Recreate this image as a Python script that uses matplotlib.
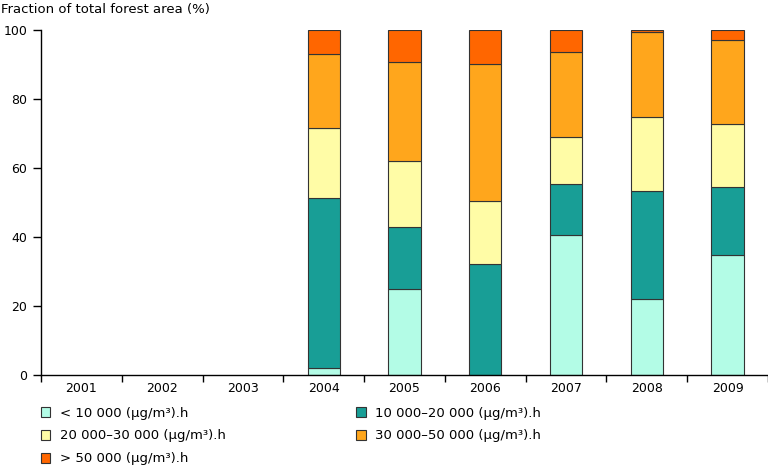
import numpy as np
import matplotlib.pyplot as plt

years = ['2001', '2002', '2003', '2004', '2005', '2006', '2007', '2008', '2009']
labels = ['< 10 000 (µg/m³).h', '10 000–20 000 (µg/m³).h', '20 000–30 000 (µg/m³).h',
          '30 000–50 000 (µg/m³).h', '> 50 000 (µg/m³).h']
colors = ['#b3fce6', '#189e96', '#fffca6', '#ffa61c', '#ff6600']

# fractions (%) per class, no data for 2001-2003
lt10  = [0, 0, 0, 1.9, 25.0, 0.0, 40.7, 22.0, 34.9]
c1020 = [0, 0, 0, 49.5, 17.9, 32.3, 14.7, 31.2, 19.5]
c2030 = [0, 0, 0, 20.1, 19.0, 18.0, 13.5, 21.5, 18.4]
c3050 = [0, 0, 0, 21.5, 28.7, 39.9, 24.6, 24.8, 24.4]
gt50  = [0, 0, 0, 7.0, 9.4, 9.8, 6.5, 0.5, 2.8]
series = [lt10, c1020, c2030, c3050, gt50]

plt.rcParams['font.family'] = 'DejaVu Sans'
fig = plt.figure(figsize=(7.68, 4.65), dpi=100)
ax = fig.add_axes([41/768, 90/465, 727/768, 345/465])

x = np.arange(len(years))
bottom = np.zeros(len(years))
bars = []
for vals, col, lab in zip(series, colors, labels):
    vals = np.array(vals)
    mask = vals > 0
    b = ax.bar(x[mask], vals[mask], width=0.4, bottom=bottom[mask], color=col,
               edgecolor='#333333', linewidth=0.8, label=lab)
    bars.append(b)
    bottom += vals

ax.set_xlim(-0.5, len(years) - 0.5)
ax.set_ylim(0, 100)
ax.set_yticks([0, 20, 40, 60, 80, 100])
ax.set_xticks(x)
ax.set_xticklabels(years)
ax.set_xticks(np.arange(-0.5, len(years)), minor=True)
ax.tick_params(axis='x', which='major', length=0, labelsize=9, pad=5)
ax.tick_params(axis='x', which='minor', length=5, width=1, direction='out')
ax.tick_params(axis='y', length=6, width=1, labelsize=9, direction='out', pad=4)
for s in ['top', 'right']:
    ax.spines[s].set_visible(False)
ax.spines['left'].set_linewidth(1)
ax.spines['bottom'].set_linewidth(1)

fig.text(1/768, 1 - 10/465, 'Fraction of total forest area (%)', fontsize=9.5, va='center', ha='left')

order = [0, 2, 4, 1, 3]
fig.legend([bars[i] for i in order], [labels[i] for i in order], ncol=2,
           loc='upper left', bbox_to_anchor=(30/768, 1 - 396/465), frameon=False,
           fontsize=9.5, handlelength=0.75, handleheight=0.75, columnspacing=9.9,
           labelspacing=0.75, handletextpad=0.7, borderpad=0.3)

fig.savefig('out.png', dpi=100)
